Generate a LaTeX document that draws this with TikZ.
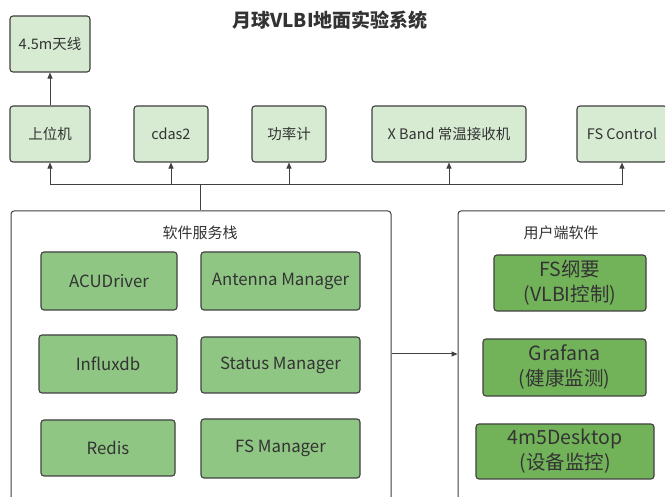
\documentclass[tikz,border=0pt]{standalone}
\usepackage{fontspec}
\setmainfont{Noto Sans CJK SC}
\usetikzlibrary{arrows.meta}
\definecolor{lightg}{HTML}{D6EBD2}
\definecolor{midg}{HTML}{8FC683}
\definecolor{darkg}{HTML}{72B35A}
\definecolor{edgec}{HTML}{404040}
\definecolor{txt}{HTML}{333333}
\tikzset{
  box/.style={draw=edgec, line width=1.1pt, rounded corners=3pt, inner sep=0pt, align=center, text=txt},
  topbox/.style={box, fill=lightg, font=\fontsize{14.5}{17}\selectfont},
  svcbox/.style={box, fill=midg, font=\fontsize{16.8}{19}\selectfont},
  userbox/.style={box, fill=darkg, font=\fontsize{19.5}{25}\selectfont},
  frame/.style={draw=edgec, line width=1pt, rounded corners=3pt, fill=white},
  lbl/.style={text=txt, font=\fontsize{15}{17}\selectfont},
  conn/.style={draw=edgec, line width=1pt},
  arr/.style={conn, -{Triangle[length=6pt,width=5pt]}}
}
\begin{document}
\begin{tikzpicture}[x=1pt,y=-1pt]
\useasboundingbox (0,0) rectangle (665,497);
\fill[white] (0,0) rectangle (665,497);
\clip (0,0) rectangle (665,497);

\node[text=txt, font=\fontsize{19}{22}\selectfont\bfseries] (title) at (330,20) {月球VLBI地面实验系统};

% top row
\node[topbox, minimum width=80pt, minimum height=56pt] (ant) at (50,44) {4.5m天线};
\node[topbox, minimum width=80pt, minimum height=56pt] (upper) at (50,134) {上位机};
\node[topbox, minimum width=74pt, minimum height=56pt] (cdas) at (171,134) {cdas2};
\node[topbox, minimum width=74pt, minimum height=56pt] (pwr) at (289,134) {功率计};
\node[topbox, minimum width=154pt, minimum height=56pt] (xband) at (449,134) {X Band 常温接收机};
\node[topbox, minimum width=90pt, minimum height=56pt] (fsc) at (622,134) {FS Control};

% frames
\node[frame, minimum width=380pt, minimum height=300pt] (sw) at (201,361) {};
\node[frame, minimum width=222pt, minimum height=300pt] (ub) at (569,361) {};
\node[lbl] (swt) at (200,233) {软件服务栈};
\node[lbl] (ubt) at (561,233) {用户端软件};

% software services
\node[svcbox, minimum width=136pt, minimum height=58pt] (acu) at (109,281) {ACUDriver};
\node[svcbox, minimum width=159pt, minimum height=58pt] (antm) at (280.5,281) {Antenna Manager};
\node[svcbox, minimum width=138pt, minimum height=58pt] (influx) at (108,364) {Influxdb};
\node[svcbox, minimum width=159pt, minimum height=56pt] (stat) at (280.5,365) {Status Manager};
\node[svcbox, minimum width=134pt, minimum height=56pt] (redis) at (108,448) {Redis};
\node[svcbox, minimum width=159pt, minimum height=59pt] (fsm) at (280.5,448.5) {FS Manager};

% user software
\node[userbox, minimum width=152pt, minimum height=56pt] (fsg) at (570,283) {FS纲要\\(VLBI控制)};
\node[userbox, minimum width=163pt, minimum height=57pt] (graf) at (564.5,367.5) {Grafana\\(健康监测)};
\node[userbox, minimum width=178pt, minimum height=55pt] (desk) at (565,451.5) {4m5Desktop\\(设备监控)};

% connectors
\draw[arr] (upper.north) -- (ant.south);
\coordinate (bus) at (200,185);
\draw[conn] (bus) -- (bus |- sw.north);
\draw[conn] (upper.south |- bus) -- (fsc.south |- bus);
\foreach \n in {upper,cdas,pwr,xband,fsc}
  \draw[arr] (\n.south |- bus) -- (\n.south);
\coordinate (mid) at (0,354);
\draw[arr] (sw.east |- mid) -- (ub.west |- mid);
\end{tikzpicture}
\end{document}
